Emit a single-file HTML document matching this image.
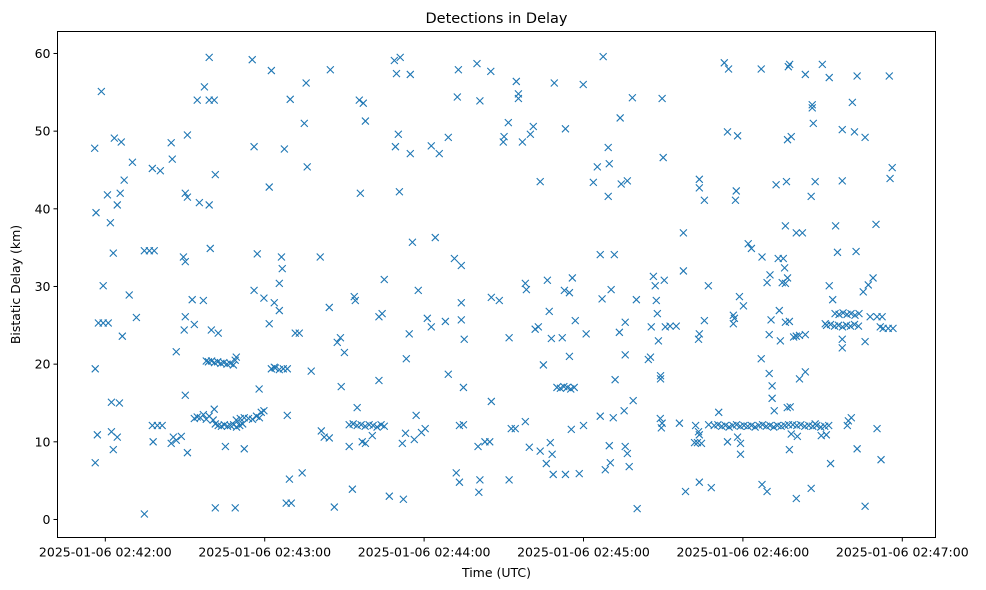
<!DOCTYPE html>
<html><head><meta charset="utf-8"><style>
body{margin:0;background:#fff;}
svg{display:block;font-family:"DejaVu Sans","Liberation Sans",sans-serif;}
</style></head><body>
<svg id="chart" width="986" height="590"></svg>
<script>
// Times: seconds after 2025-01-06 02:42:00; delays in km
const times = [-4,-3.5,-3.8,-3.8,-3,-1.5,-2.6,-0.8,1.1,-0.8,0.8,1.9,3,3.4,2.3,2.3,3,4.5,4.5,5.6,6,7.1,5.3,6.4,9,10.2,11.7,14.7,14.7,16.6,18.4,17.7,20.7,17.7,19.6,21.4,18,24.8,25.2,26.7,24.8,25.6,26.7,28.6,29.7,29.4,30.1,30.9,30.9,30.1,30.1,30.9,30.1,32.7,33.5,33.5,34.6,35.8,36.9,38,39.1,35.4,36.9,37.3,39.1,39.1,34.6,41,39.1,39.5,41.4,39.9,42.5,38,38.8,40,41.1,42.3,43.5,44.6,45.8,47,48.2,48.9,41.4,48.9,41.4,42.5,43.7,44.8,46,47.1,48.3,49.4,50.6,51.7,41,40.6,45.2,52.3,49.3,50.8,52.3,53.9,55.4,56.9,58,49.3,55.3,56,57.2,56,57.9,58.7,59.7,59.7,61.7,61.7,62.5,63.6,63.6,62.5,64,65.5,67,68.5,66.3,66.6,65.5,65.5,67.4,68.5,69.6,68.1,70,69.3,71.5,73,74.9,75.6,76,74.1,77.5,80.9,81.3,82.4,84.3,84.7,84.3,86.2,87.3,88.5,88.8,90,91.8,93.7,93,94.1,95.6,96,97.1,97.9,94.8,91.8,93.3,94.8,96.3,97.8,99.3,100.8,102.3,103.8,105,96.7,97.9,100.5,103,104.2,105,103,106.9,108.8,109.6,109.2,110.3,110.7,111,112.2,111.8,113,113.3,114.4,114.8,114.8,115.6,117.8,116.3,117,119,120.4,121.2,124.2,122.7,125.7,122.7,129.1,128,129.1,131.4,132.5,132.9,134,134,134,135.1,134.8,132.1,133.3,133.3,134.8,139.9,141,140.3,140.6,141,142.9,144.7,145.1,145.3,145.3,148.3,149.8,150.1,151.7,152,152.8,154.3,152,154.7,155.5,155.5,157,158.1,158.5,158.1,159.6,160,161.1,161.8,163,163.7,163.7,164.9,166.4,167.1,167.9,166,167.5,168.2,168.6,169,170,171.3,172.6,173.9,175.2,176.5,172,172.8,173.2,173.2,174.7,175.8,174.7,175.4,176.9,178.4,179.9,180,181,183.7,185.2,186.3,187,186.3,187.4,188.2,189.3,189.7,189.3,189.7,190.1,190.4,191.2,191.9,191.6,193.5,193.8,194.2,195.7,195.7,196.5,195.7,196.5,197.2,198.4,198.7,199.9,200.2,195.3,204.4,205.2,205.5,206.3,207,207.4,207.8,208.2,209,208.9,209.3,209.6,210,209.6,209,210.4,210.8,212.6,214.9,216.1,217.6,217.6,218.4,221.8,222.9,224.4,222.2,223.3,223.6,223.3,223.6,223.6,223.6,223.6,225.5,225.5,227,228.1,227.1,230.9,233,234.6,234.2,234.2,236.4,236.4,236.8,237.2,237.5,238,238.7,239.1,240.2,239.1,238,229.2,230.6,232,233.4,234.8,236.2,237.6,239,240.4,241.8,243.2,244.6,246,247.4,248.8,250.2,251.6,253,254.4,255.8,257.2,242,243.2,246.9,246.9,247.2,247.2,249.1,249.1,249.9,250.2,250.6,249.9,251,251,251.8,252.5,253.3,254.8,253.7,254.1,256,255.7,256.4,257.1,257.6,256.8,258.2,256,256.8,256,255.2,256.7,257.8,257.5,258.2,257.5,259.1,260.1,260.1,260.5,260.1,261.3,261.3,262.4,263.5,263.5,263.5,265.7,265.7,266.1,266.1,266.5,267.2,258.8,260.3,261.8,263.3,264.8,266.3,267.8,269.3,270.8,272.3,267.2,269.5,269.9,271.4,272.5,273,272.5,273.8,274.9,275.6,271,274.7,276.2,277.7,279.2,280.7,282.2,283.7,271.5,273,274.5,276,277.5,279,280.5,282,283.5,277.4,277.4,277.4,277.4,279.3,279.7,280.8,281.2,282,282.6,283,283,285.3,286,286,286,287.2,287.9,289,290.1,290.5,290.5,291.7,292,292.4,292.8,294.7,295.1,295.4,296.2,296.5];
const delays = [47.8,39.5,19.4,7.3,10.9,55.1,25.3,25.3,25.3,30.1,41.8,38.2,34.3,49.1,15.1,11.3,9.0,10.6,40.5,42,48.6,43.7,15.0,23.6,28.9,46,26.0,0.7,34.6,34.6,34.6,45.2,44.9,12.1,12.1,12.1,10.0,48.5,46.4,21.6,9.8,10.6,10.2,10.7,24.4,33.8,42,41.5,49.5,33.2,26.1,8.6,16,28.3,25.1,13.0,13.2,13.1,13.5,12.9,13.3,40.8,28.2,55.7,59.5,54.0,54.0,54.0,40.5,34.9,44.4,24.4,24,20.4,20.3,20.4,20.2,20.3,20.1,20.2,20.0,20.1,19.9,20.5,1.5,1.5,12.3,12.1,12.0,12.2,12.0,12.1,12.2,11.9,12.1,12.3,14.2,12.8,9.4,9.1,12.8,13.0,13.1,13.0,12.9,13.3,13.1,20.9,59.2,48,34.2,29.5,16.8,13.8,14,28.5,42.8,25.2,57.8,27.9,19.6,19.4,19.5,19.3,19.4,19.4,33.8,32.3,30.4,26.9,47.7,13.4,54.1,2.1,2.1,5.2,24.0,24.0,51.0,56.2,45.4,6.0,19.1,33.8,11.4,10.6,10.5,57.9,27.3,1.6,22.8,23.4,17.1,21.5,9.4,28.7,3.9,28.2,54,42,53.6,51.3,14.4,12.2,12.3,12.1,12.2,12.0,12.2,12.1,11.9,12.2,12.0,10,9.8,10.8,26.1,26.5,30.9,17.9,3,59.1,57.4,48,49.6,42.2,59.5,2.6,9.8,11.1,20.7,23.9,57.3,47.1,35.7,29.5,10.3,13.4,11.2,11.7,25.9,36.3,24.8,47.1,48.1,49.2,25.5,18.7,33.6,54.4,57.9,32.7,27.9,25.7,23.2,17.0,6.0,4.8,12.1,12.2,58.7,53.9,9.4,3.5,5.1,10,10.0,57.7,28.6,15.2,28.2,48.6,49.3,51.1,23.4,11.7,11.7,5.1,56.4,54.8,54.2,48.6,30.4,29.6,12.6,9.3,49.6,50.6,24.5,24.8,43.5,8.8,19.9,30.8,26.8,23.3,7.2,9.9,8.4,5.8,56.2,17,16.9,17.1,17,16.8,17.0,23.4,29.5,50.3,5.8,29.2,31.1,21,11.6,25.6,5.9,56,12.1,23.9,43.4,45.4,34.1,28.4,13.3,59.6,6.4,47.9,45.8,41.6,9.5,7.3,29.6,13.1,18,34.1,24.1,51.7,43.2,21.2,25.4,43.6,9.4,8.5,6.8,54.3,15.3,28.3,1.4,14,20.6,20.9,24.8,31.3,30.1,28.2,26.5,23,18.5,13,11.8,54.2,46.6,12.4,18.1,30.8,24.8,24.9,24.9,12.4,36.9,32,3.6,9.9,9.9,9.8,12.1,23.2,23.9,11.3,10.9,43.8,42.7,4.8,41.1,25.6,30.1,4.1,12.2,13.8,58.8,58,49.9,10,25.2,26.3,25.9,41.1,42.3,49.4,28.7,9.8,27.5,8.4,10.6,12.1,12.2,12.0,12.1,11.9,12.1,12.2,12.0,12.1,12.0,12.1,11.9,12.1,12.2,12.0,12.1,11.9,12.1,12.0,12.1,12.2,35.5,34.9,20.7,58,33.8,4.5,3.6,30.5,23.8,31.5,25.7,18.8,17.2,15.6,14,43.1,33.6,30.5,26.9,23,25.4,32.4,43.5,58.3,58.6,48.9,49.3,30.4,31.1,37.8,33.6,14.4,14.5,9,11,25.5,23.5,23.6,2.7,10.7,36.9,23.7,18.1,36.9,19,57.3,23.8,4,41.6,53.4,53,51,43.5,12.2,12.1,12.2,12.0,12.1,12.0,12.1,11.9,12.0,12.1,12.3,10.8,58.6,10.9,30.1,7.2,56.9,28.3,37.8,34.4,25.2,26.5,26.4,26.6,26.4,26.5,26.3,26.5,25.0,25.1,24.9,25.0,24.8,25.0,24.9,25.1,24.9,22.1,23.2,43.6,50.2,12.1,12.7,13.1,53.7,49.9,34.5,57.1,9.1,29.3,1.7,49.2,22.9,30.2,26.1,31.1,38,11.7,26.1,24.8,7.7,26.1,24.6,24.6,57.1,43.9,45.3,24.6];
const xTickSecs = [0,60,120,180,240,300];
const xTickLabels = ["2025-01-06 02:42:00","2025-01-06 02:43:00","2025-01-06 02:44:00","2025-01-06 02:45:00","2025-01-06 02:46:00","2025-01-06 02:47:00"];
const yTicks = [0,10,20,30,40,50,60];

const NS="http://www.w3.org/2000/svg";
const svg=document.getElementById('chart');
const L=57.5,R=935.5,T=31.5,B=537.5;
const xMin=-18, xMax=312.5; // seconds
const yMin=-2.32, yMax=62.83;
function xs(t){return L+(t-xMin)/(xMax-xMin)*(R-L);}
function ys(v){return B-(v-yMin)/(yMax-yMin)*(B-T);}
function mk(tag,attrs){const e=document.createElementNS(NS,tag);for(const k in attrs)e.setAttribute(k,attrs[k]);svg.appendChild(e);return e;}

const title=mk('text',{x:(L+R)/2,y:23,'text-anchor':'middle','font-size':'14.5',fill:'#000'});
title.textContent='Detections in Delay';



const pts=document.createElementNS(NS,'g');


svg.appendChild(pts);
for(let i=0;i<times.length;i++){
  const cx=xs(times[i]),cy=ys(delays[i]),h=3.5;
  const p=document.createElementNS(NS,'path');
  p.setAttribute('d',`M${cx-h},${cy-h}L${cx+h},${cy+h}M${cx-h},${cy+h}L${cx+h},${cy-h}`);
  p.setAttribute('stroke','#1f77b4');p.setAttribute('stroke-width','1.1');p.setAttribute('fill','none');
  
  
  pts.appendChild(p);
}

const frame=mk('rect',{x:L,y:T,width:R-L,height:B-T,fill:'none',stroke:'#000','stroke-width':'1'});



for(let i=0;i<xTickSecs.length;i++){
  const x=xs(xTickSecs[i]);
  mk('line',{x1:x,x2:x,y1:B,y2:B+4,stroke:'#000'});
  const t=mk('text',{x:x,y:B+19,'text-anchor':'middle','font-size':'12.5',fill:'#000'});
  t.textContent=xTickLabels[i];
  
  
}
for(const v of yTicks){
  const y=ys(v);
  mk('line',{x1:L-4,x2:L,y1:y,y2:y,stroke:'#000'});
  const t=mk('text',{x:L-7,y:y+4.5,'text-anchor':'end','font-size':'12.5',fill:'#000'});
  t.textContent=String(v);
  
  
}
const xl=mk('text',{x:(L+R)/2,y:577,'text-anchor':'middle','font-size':'12.5',fill:'#000'});
xl.textContent='Time (UTC)';


const yl=mk('text',{x:0,y:0,'text-anchor':'middle','font-size':'12.5',fill:'#000',transform:`translate(20,${(T+B)/2}) rotate(-90)`});
yl.textContent='Bistatic Delay (km)';


</script>
</body></html>
